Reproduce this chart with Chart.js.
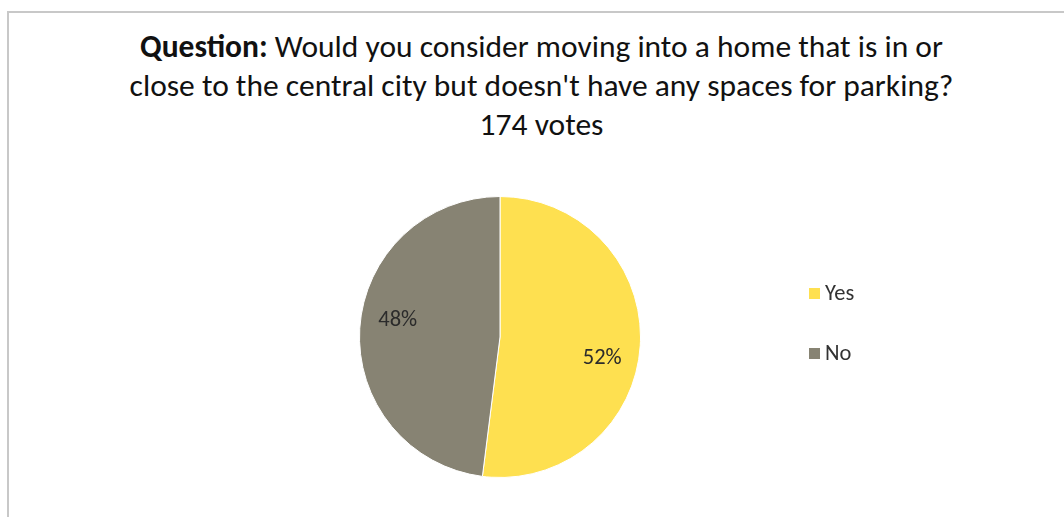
<!DOCTYPE html>
<html>
<head>
<meta charset="utf-8">
<script src="https://cdn.jsdelivr.net/npm/chart.js@4"></script>
<style>
  body { margin: 0; background: #fff; }
  #wrap { position: relative; width: 1064px; height: 517px; overflow: hidden; }
  #frame { position: absolute; left: 7px; top: 11px; width: 1100px; height: 600px;
           border: 2px solid #c8c8c8; box-sizing: border-box; }
  #title { position: absolute; left: 0; top: 27px; width: 1083px; text-align: center;
           font-family: Carlito, "Open Sans", sans-serif; font-size: 31.5px;
           line-height: 39px; color: #111; }
  #title b { font-weight: bold; }
  #chart { position: absolute; left: 0; top: 0; }
</style>
</head>
<body>
<div id="wrap">
  <div id="frame"></div>
  <div id="title"><b>Question:</b> Would you consider moving into a home that is in or<br>close to the central city but doesn't have any spaces for parking?<br>174 votes</div>
  <canvas id="chart" width="1064" height="517"></canvas>
</div>
<script>
const answers = ['Yes', 'No']
const shares = [52, 48]
const sliceColors = ['#fee050', '#878373']

const fontFamily = 'Carlito, "Open Sans", sans-serif'

// percentage labels inside each slice
const sliceLabels = {
  id: 'sliceLabels',
  afterDatasetsDraw(chart) {
    const ctx = chart.ctx
    const meta = chart.getDatasetMeta(0)
    ctx.save()
    ctx.font = '22.5px ' + fontFamily
    ctx.fillStyle = '#2b2b2b'
    ctx.textAlign = 'center'
    ctx.textBaseline = 'middle'
    meta.data.forEach((arc, i) => {
      const mid = (arc.startAngle + arc.endAngle) / 2 + 0.12
      const r = arc.outerRadius * 0.74
      ctx.fillText(shares[i] + '%', arc.x + Math.cos(mid) * r, arc.y + Math.sin(mid) * r + 2)
    })
    ctx.restore()
  }
}

// legend on the right, one entry per answer
const sideLegend = {
  id: 'sideLegend',
  afterDraw(chart) {
    const ctx = chart.ctx
    ctx.save()
    ctx.font = '22.5px ' + fontFamily
    ctx.textBaseline = 'middle'
    chart.data.labels.forEach((label, i) => {
      const y = 293 + i * 60
      ctx.fillStyle = chart.data.datasets[0].backgroundColor[i]
      ctx.fillRect(809, y - 5, 11, 11)
      ctx.fillStyle = '#333'
      ctx.fillText(label, 825, y + 1)
    })
    ctx.restore()
  }
}

new Chart(document.getElementById('chart'), {
  type: 'pie',
  data: {
    labels: answers,
    datasets: [{
      data: shares,
      backgroundColor: sliceColors,
      borderColor: '#ffffff',
      borderWidth: 1
    }]
  },
  options: {
    responsive: false,
    animation: false,
    layout: { padding: { top: 196, bottom: 39, left: 300, right: 364 } },
    plugins: {
      legend: { display: false },
      tooltip: { enabled: false }
    }
  },
  plugins: [sliceLabels, sideLegend]
})
</script>
</body>
</html>
